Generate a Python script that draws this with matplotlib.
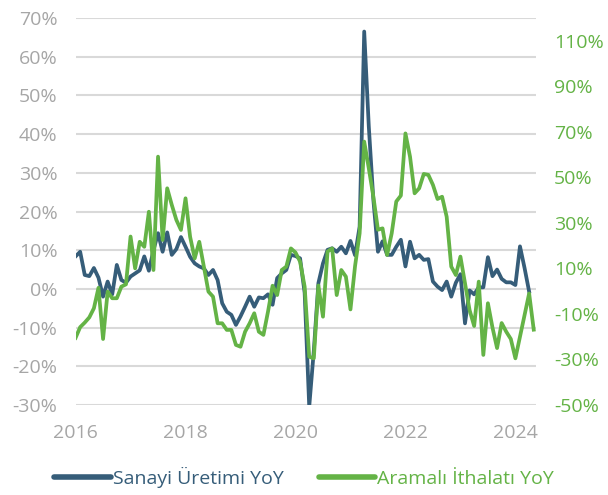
import matplotlib
matplotlib.use('Agg')
import matplotlib.pyplot as plt

# monthly YoY %, Jan 2016 onwards
sanayi = [8.4, 9.6, 3.6, 3.3, 5.4, 2.9, -2.0, 1.9, -1.4, 6.2, 2.3, 1.6,
          3.2, 4.0, 4.8, 8.4, 4.7, 10.0, 14.4, 9.6, 14.6, 8.8, 10.3, 13.4,
          10.9, 8.3, 6.6, 5.8, 5.3, 3.6, 4.9, 2.3, -3.7, -5.9, -6.7, -9.3,
          -7.1, -4.6, -2.0, -4.6, -2.2, -2.4, -1.4, -4.1, 2.8, 4.0, 4.9, 8.8,
          8.5, 7.9, -1.0, -30.4, -16.0, 1.5, 6.6, 10.1, 10.5, 9.6, 10.9, 9.2,
          12.4, 8.7, 16.1, 66.5, 42.0, 23.0, 9.6, 12.3, 8.8, 8.8, 10.9, 12.7,
          5.8, 12.2, 7.9, 8.8, 7.5, 7.7, 1.9, 0.6, -0.3, 1.9, -2.0, 1.6,
          3.8, -8.9, -0.4, -1.4, 0.4, 0.4, 8.2, 3.3, 5.0, 2.6, 1.7, 1.7,
          1.0, 11.0, 5.4, -0.7]

ithalat = [-20.5, -15.8, -13.8, -11.5, -7.5, 1.5, -21.0, -0.2, -3.1, -3.1, 2.0, 3.0,
           24.0, 10.0, 21.7, 19.5, 34.9, 9.3, 59.1, 22.5, 45.2, 37.9, 31.3, 26.9,
           40.8, 23.9, 14.4, 21.7, 10.8, -0.2, -2.4, -14.1, -14.1, -17.0, -17.0, -23.6,
           -24.4, -17.8, -14.1, -9.7, -17.8, -19.2, -9.0, 2.4, -1.7, 9.3, 10.8, 18.8,
           17.0, 13.0, 2.0, -28.8, -29.5, 2.5, -11.2, 17.4, 18.8, -1.7, 9.3, 6.4,
           -8.0, 11.0, 25.4, 65.7, 54.0, 41.5, 27.0, 27.6, 15.9, 25.4, 39.4, 42.0,
           69.3, 59.1, 43.0, 45.2, 51.5, 51.1, 46.7, 40.5, 41.5, 32.7, 10.8, 7.1,
           15.2, 3.5, -8.3, -15.3, 4.2, -28.0, -5.3, -16.0, -25.0, -14.0, -17.8, -21.0,
           -29.5, -20.0, -10.5, -1.0, -16.9]

years = ['2016', '2018', '2020', '2022', '2024']
year_pos = [0, 24, 48, 72, 96]

blue = '#365D79'
green = '#64B346'
gray = '#A6A6A6'

plt.rcParams['font.family'] = ['Open Sans', 'DejaVu Sans']

fig = plt.figure(figsize=(6.08, 4.95), dpi=100)
ax = fig.add_axes([0.1243, 0.1818, 0.7573, 0.7818])
ax2 = ax.twinx()

l1, = ax.plot(range(len(sanayi)), sanayi, color=blue, lw=2.7, label='Sanayi Üretimi YoY')
l2, = ax2.plot(range(len(ithalat)), ithalat, color=green, lw=2.7, label='Aramalı İthalatı YoY')

ax.set_xlim(0, 100.5)
ax.set_ylim(-30, 70)
ax.set_yticks(range(-30, 71, 10))
ax.set_yticklabels([f'{v}%' for v in range(-30, 71, 10)])
ax2.set_ylim(-50, 120)
ax2.set_yticks(range(-50, 111, 20))
ax2.set_yticklabels([f'{v}%' for v in range(-50, 111, 20)])
ax.set_xticks(year_pos)
ax.set_xticklabels(years)

ax.grid(axis='y', color='#D9D9D9', lw=1.5)
ax.set_axisbelow(True)
for a in (ax, ax2):
    for s in a.spines.values():
        s.set_visible(False)
ax.tick_params(axis='y', length=0, pad=13, labelsize=14, labelcolor=gray)
ax.tick_params(axis='x', length=0, pad=14, labelsize=14, labelcolor=gray)
ax2.tick_params(axis='y', length=0, pad=13, labelsize=14, labelcolor=green)

leg = fig.legend(handles=[l1, l2], loc='center', bbox_to_anchor=(0.5, 0.035), ncol=2,
                 frameon=False, fontsize=14, handlelength=2.9, handletextpad=0.1,
                 columnspacing=1.8)
for line in leg.get_lines():
    line.set_linewidth(4)
    line.set_solid_capstyle('round')
for t, c in zip(leg.get_texts(), [blue, green]):
    t.set_color(c)

plt.savefig('out.png', dpi=100)
